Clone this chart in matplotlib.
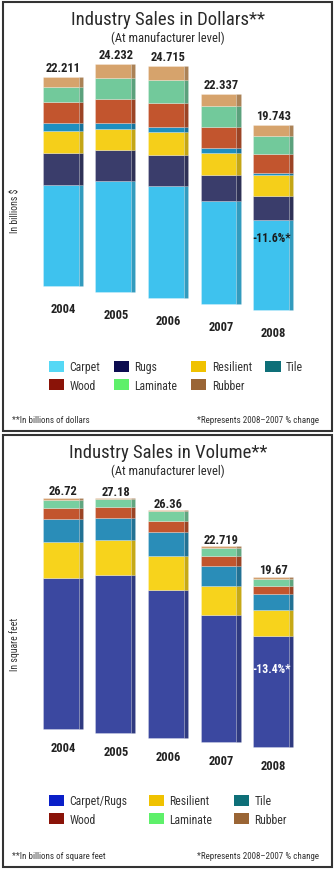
import numpy as np
import matplotlib
matplotlib.use('Agg')
import matplotlib.pyplot as plt
import matplotlib.colors as mcolors
from matplotlib.patches import Patch, Rectangle
from matplotlib import font_manager

# fuente angosta si existe
names = {f.name for f in font_manager.fontManager.ttflist}
for fam in ['Liberation Sans Narrow', 'Roboto Condensed', 'Roboto']:
    if fam in names:
        break
plt.rcParams['font.family'] = [fam, 'DejaVu Sans']

# Datos
years = ['2004', '2005', '2006', '2007', '2008']

dollar_totals = [22.211, 24.232, 24.715, 22.337, 19.743]
dollar_names = ['Carpet', 'Rugs', 'Resilient', 'Tile', 'Wood', 'Laminate', 'Rubber']
d_carpet = [10.79, 11.85, 11.94, 10.98, 9.58]
d_rugs = [3.32, 3.25, 3.32, 2.82, 2.55]
d_resilient = [2.43, 2.30, 2.39, 2.35, 2.29]
d_tile = [0.77, 0.58, 0.52, 0.47, 0.20]
d_wood = [2.30, 2.55, 2.60, 2.25, 2.03]
d_laminate = [1.53, 2.30, 2.49, 2.25, 1.94]
d_rubber = [1.07, 1.40, 1.45, 1.22, 1.15]
dollar_change = '-11.6%*'

volume_totals = [26.72, 27.18, 26.36, 22.719, 19.67]
volume_names = ['Carpet/Rugs', 'Resilient', 'Tile', 'Wood', 'Laminate', 'Rubber']
v_carpet = [17.46, 18.31, 17.13, 14.77, 12.78]
v_resilient = [4.17, 4.08, 3.94, 3.36, 3.00]
v_tile = [2.66, 2.57, 2.70, 2.24, 1.89]
v_wood = [1.27, 1.28, 1.35, 1.23, 0.89]
v_laminate = [0.93, 0.82, 1.13, 0.90, 0.89]
v_rubber = [0.23, 0.12, 0.11, 0.22, 0.22]
volume_change = '-13.4%*'

# Colores
d_bar_colors = ['#3ec2ee', '#3a3d6b', '#f5cf1a', '#1e8fc0', '#c2552e', '#72c99b', '#d6a36c']
d_leg_colors = ['#55d8f5', '#0c0c50', '#f0c200', '#0e6f78', '#8a1308', '#5ef06a', '#9a6535']
v_bar_colors = ['#3b48a0', '#f7d31c', '#2a8db8', '#c2552e', '#78cfa0', '#d4a070']
v_leg_colors = ['#0a1fc8', '#f0c200', '#0e6f78', '#8a1308', '#5ef06a', '#9a6535']

W, H = 336, 895
fig = plt.figure(figsize=(W / 100, H / 100), dpi=100)


def fx(px):
    return px / W


def fy(py):
    return 1 - py / H


def darker(c, f=0.8):
    r, g, b = mcolors.to_rgb(c)
    return (r * f, g * f, b * f)


def panel(top, bottom, base_px, scale, step, layers, bar_colors, leg_colors, names,
          totals, change, change_color, title, ylabel, note, ncol, label_gap, year_gap,
          change_h, leg_y, leg_x, colsp, ylab_y, leg_order):
    # marco
    fig.patches.append(Rectangle((fx(3), fy(bottom)), fx(329), (bottom - top) / H,
                                 transform=fig.transFigure, fill=False,
                                 edgecolor='#333333', lw=1.5))
    fig.text(0.5, fy(top + 17), title, ha='center', va='center', fontsize=13.5, color='#2a2a2a')
    fig.text(0.5, fy(top + 35), '(At manufacturer level)', ha='center', va='center',
             fontsize=9, color='#2a2a2a')

    ax_top, ax_bot = top + 40, base_px + 50
    ax = fig.add_axes([fx(37), fy(ax_bot), fx(263), (ax_bot - ax_top) / H])
    ax.set_xlim(-0.5, 4.5)
    lo = -(ax_bot - base_px) / scale
    ax.set_ylim(lo, lo + (ax_bot - ax_top) / scale)
    ax.axis('off')

    x = np.arange(len(years))
    sink = step * x
    bottoms = -sink.astype(float)
    for vals, c in zip(layers, bar_colors):
        ax.bar(x - 0.05, vals, width=0.68, bottom=bottoms, color=c,
               edgecolor=(1, 1, 1, 0.35), lw=0.5)
        ax.bar(x + 0.33, vals, width=0.08, bottom=bottoms, color=darker(c),
               edgecolor=(1, 1, 1, 0.2), lw=0.4)
        bottoms = bottoms + np.array(vals)

    for i, (yr, tot) in enumerate(zip(years, totals)):
        ax.annotate(f'{tot:g}', (x[i], bottoms[i]),
                    xytext=(0, label_gap), textcoords='offset points',
                    ha='center', va='center', fontsize=9, fontweight='bold', color='#222222')
        ax.annotate(yr, (x[i], -sink[i]), xytext=(0, -year_gap), textcoords='offset points',
                    ha='center', va='center', fontsize=9, fontweight='bold', color='#222222')
    ax.text(x[-1] - 0.05, -sink[-1] + change_h, change, ha='center', va='center',
            fontsize=8.5, fontweight='bold', color=change_color)

    fig.text(fx(15), fy(ylab_y), ylabel, rotation=90,
             ha='center', va='center', fontsize=7, color='#333333')

    handles = [Patch(facecolor=leg_colors[k], label=names[k]) for k in leg_order]
    fig.legend(handles=handles, loc='center', bbox_to_anchor=(fx(leg_x), fy(leg_y)), ncol=ncol,
               frameon=False, fontsize=8.5, handlelength=1.3, handleheight=1.1,
               handletextpad=0.45, columnspacing=colsp, labelspacing=0.45,
               labelcolor='#333333')

    fig.text(fx(12), fy(bottom - 11), note, ha='left', va='center', fontsize=6.5,
             color='#333333')
    fig.text(fx(319), fy(bottom - 11), '*Represents 2008\u20132007 % change', ha='right',
             va='center', fontsize=6.5, color='#333333')


panel(3, 432, 287, 9.4, 0.65,
      [d_carpet, d_rugs, d_resilient, d_tile, d_wood, d_laminate, d_rubber],
      d_bar_colors, d_leg_colors, dollar_names, dollar_totals, dollar_change, '#1a1a1a',
      'Industry Sales in Dollars**', 'In billions $', '**In billions of dollars',
      4, 7, 16, 7.8, 377, 176, 1.15, 211, [0, 4, 1, 5, 2, 6, 3])

panel(436, 868, 730, 8.65, 0.52,
      [v_carpet, v_resilient, v_tile, v_wood, v_laminate, v_rubber],
      v_bar_colors, v_leg_colors, volume_names, volume_totals, volume_change, 'white',
      'Industry Sales in Volume**', 'In square feet', '**In billions of square feet',
      3, 5, 13, 9.1, 811, 168, 1.8, 644, [0, 3, 1, 4, 2, 5])

fig.savefig('out.png', dpi=100, facecolor='white')
